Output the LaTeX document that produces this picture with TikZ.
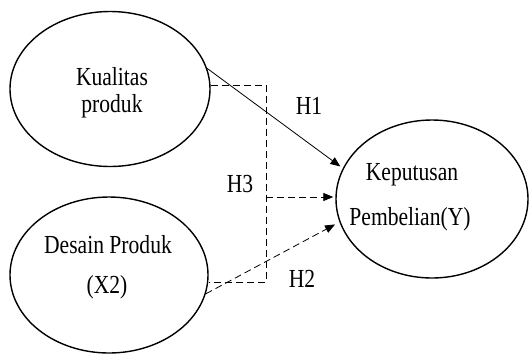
\documentclass[tikz,border=0pt]{standalone}
\usepackage{fontspec}
\usepackage{graphicx}
\setmainfont{Liberation Serif}
\usetikzlibrary{shapes.geometric,arrows.meta}
\newcommand{\cnd}[1]{\scalebox{0.83}[1]{#1}}
\tikzset{
  construct/.style={ellipse, draw, line width=1.4pt, inner sep=0pt},
  lbl/.style={anchor=base, inner sep=0pt, font=\fontsize{26}{28}\selectfont},
  hyp/.style={inner sep=0pt, font=\fontsize{26}{28}\selectfont},
  link/.style={line width=0.8pt, -{Triangle[length=10pt,width=8pt]}},
  dsh/.style={dash pattern=on 7pt off 4pt}
}
\begin{document}
\begin{tikzpicture}[x=1pt,y=-1pt]
\useasboundingbox (0,0) rectangle (529,354);
% constructs
\node[construct, minimum width=200pt, minimum height=155pt] (e1) at (110,89) {};
\node[construct, minimum width=198pt, minimum height=156pt] (e2) at (109,275) {};
\node[construct, minimum width=192pt, minimum height=158pt] (e3) at (432,199) {};
% construct names
\node[lbl] (t1a) at (112,85) {\cnd{Kualitas}};
\node[lbl] (t1b) at (112,112) {\cnd{produk}};
\node[lbl] (t2a) at (108,253) {\cnd{Desain Produk}};
\node[lbl] (t2b) at (107,293) {\cnd{(X2)}};
\node[lbl] (t3a) at (412,180) {\cnd{Keputusan}};
\node[lbl] (t3b) at (410,225) {\cnd{Pembelian(Y)}};
% joint effect bracket
\coordinate (bx1) at (266,85);
\coordinate (bx2) at (266,282);
\coordinate (h3) at (266,197);
\draw[line width=0.9pt, dsh] (e1.east |- bx1) -- (bx1) -- (bx2) -- (e2.east |- bx2);
% hypothesis paths
\draw[link, shorten >=3pt] (e1.12) -- (e3.161);
\draw[link, dsh, shorten >=5pt] (e2.-11) -- (e3.194);
\draw[link, dsh, shorten >=2pt] (h3) -- (h3 -| e3.west);
% hypothesis labels
\node[hyp] (H1) at (309,106) {\cnd{H1}};
\node[hyp] (H3) at (240,184) {\cnd{H3}};
\node[hyp] (H2) at (302,279) {\cnd{H2}};
\end{tikzpicture}
\end{document}
